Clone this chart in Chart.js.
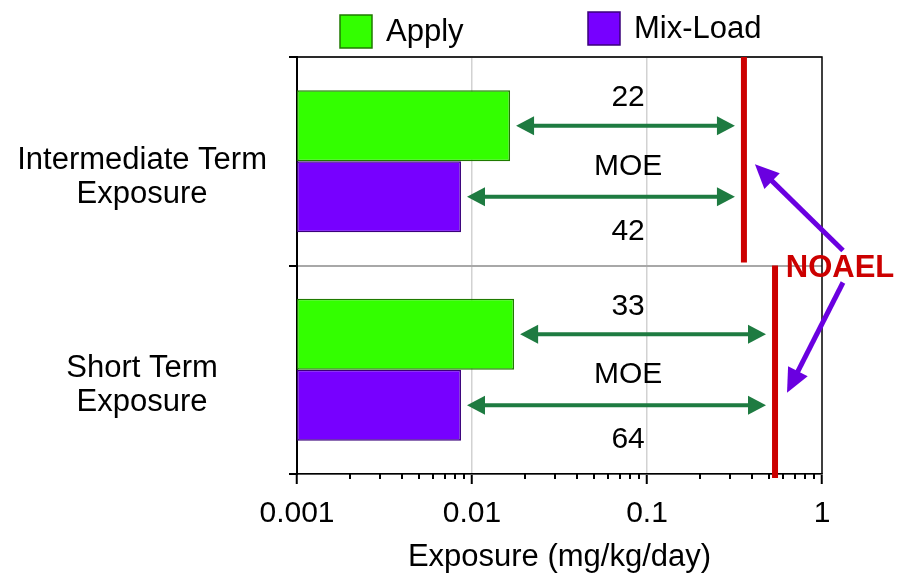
<!DOCTYPE html>
<html><head><meta charset="utf-8">
<script src="https://cdn.jsdelivr.net/npm/chart.js@4/dist/chart.umd.min.js"></script>
<style>html,body{margin:0;padding:0;background:#fff}#wrap{width:897px;height:573px}</style>
</head><body><div id="wrap"><canvas id="c" width="897" height="573"></canvas></div>
<script>
const categories = [['Intermediate Term','Exposure'],['Short Term','Exposure']];
const seriesNames = ['Apply','Mix-Load'];
const applyValues = [0.0165, 0.0174];
const mixLoadValues = [0.00865, 0.00865];
const noaelValues = [0.358, 0.539];
const moeApply = ['22','33'];
const moeMixLoad = ['42','64'];
const moeLabel = 'MOE';
const noaelLabel = 'NOAEL';
const xTickValues = [0.001, 0.01, 0.1, 1];
const xTickLabels = ['0.001', '0.01', '0.1', '1'];

const FONT = "'Liberation Sans', Arial, Helvetica, sans-serif";
const GREEN = '#33ff00', GREEN_B = '#1f7a00';
const PURPLE = '#7700ff', PURPLE_B = '#3a007a';
const ARROW_G = '#1e7b41', ARROW_P = '#6a00e0', RED = '#cc0000';

function isMajor(v){ const l = Math.log10(v); return Math.abs(l - Math.round(l)) < 1e-9; }

function doubleArrow(ctx, x1, x2, y, color){
  const hl = 18, hw = 9.5;
  ctx.save();
  ctx.strokeStyle = color; ctx.fillStyle = color; ctx.lineWidth = 4;
  ctx.beginPath(); ctx.moveTo(x1 + hl - 2, y); ctx.lineTo(x2 - hl + 2, y); ctx.stroke();
  ctx.beginPath(); ctx.moveTo(x1, y); ctx.lineTo(x1 + hl, y - hw); ctx.lineTo(x1 + hl, y + hw); ctx.closePath(); ctx.fill();
  ctx.beginPath(); ctx.moveTo(x2, y); ctx.lineTo(x2 - hl, y - hw); ctx.lineTo(x2 - hl, y + hw); ctx.closePath(); ctx.fill();
  ctx.restore();
}
function singleArrow(ctx, x1, y1, x2, y2, color){
  const hl = 24, hw = 11;
  const a = Math.atan2(y2 - y1, x2 - x1);
  const c = Math.cos(a), s = Math.sin(a);
  ctx.save();
  ctx.strokeStyle = color; ctx.fillStyle = color; ctx.lineWidth = 5;
  ctx.beginPath(); ctx.moveTo(x1, y1); ctx.lineTo(x2 - c * (hl - 2), y2 - s * (hl - 2)); ctx.stroke();
  const bx = x2 - c * hl, by = y2 - s * hl;
  ctx.beginPath(); ctx.moveTo(x2, y2);
  ctx.lineTo(bx - s * hw, by + c * hw); ctx.lineTo(bx + s * hw, by - c * hw); ctx.closePath(); ctx.fill();
  ctx.restore();
}

const annotations = {
  id: 'annotations',
  afterDatasetsDraw(chart){
    const ctx = chart.ctx, xs = chart.scales.x, ys = chart.scales.y, ca = chart.chartArea;
    const half = (ys.getPixelForValue(1) - ys.getPixelForValue(0)) / 2;
    const mA = chart.getDatasetMeta(0), mM = chart.getDatasetMeta(1);
    const labelX = xs.getPixelForValue(0.078);
    ctx.save();
    // minor ticks
    ctx.strokeStyle = '#000'; ctx.lineWidth = 2;
    xs.ticks.forEach(t => {
      if (!isMajor(t.value)) {
        const px = Math.round(xs.getPixelForValue(t.value));
        ctx.beginPath(); ctx.moveTo(px, ca.bottom); ctx.lineTo(px, ca.bottom + 5); ctx.stroke();
      }
    });
    // frame (top / right)
    ctx.lineWidth = 1.5; ctx.strokeStyle = '#000';
    ctx.beginPath(); ctx.moveTo(ca.left, ca.top); ctx.lineTo(ca.right, ca.top); ctx.lineTo(ca.right, ca.bottom); ctx.stroke();
    categories.forEach((cat, i) => {
      const cy = ys.getPixelForValue(i);
      const nx = xs.getPixelForValue(noaelValues[i]);
      // NOAEL line
      ctx.fillStyle = RED;
      const top = cy - half;
      const bot = i === 0 ? cy + half - 3 : cy + half + 4;
      ctx.fillRect(nx - 3, top, 6, bot - top);
      // MOE arrows
      const ba = mA.data[i], bm = mM.data[i];
      doubleArrow(ctx, xs.getPixelForValue(applyValues[i]) + 6, nx - 9, ba.y, ARROW_G);
      doubleArrow(ctx, xs.getPixelForValue(mixLoadValues[i]) + 6, nx - 9, bm.y, ARROW_G);
      // texts
      ctx.fillStyle = '#000'; ctx.font = '30px ' + FONT;
      ctx.textAlign = 'center'; ctx.textBaseline = 'middle';
      ctx.fillText(moeApply[i], labelX, ba.y - 28);
      ctx.fillText(moeLabel, labelX, cy + 5);
      ctx.fillText(moeMixLoad[i], labelX, bm.y + 35);
    });
    // NOAEL label + pointers
    const bY = ys.getPixelForValue(0) + half;
    const lx = ca.right + 18;
    ctx.fillStyle = RED; ctx.font = 'bold 31px ' + FONT;
    ctx.textAlign = 'center'; ctx.textBaseline = 'middle';
    ctx.fillText(noaelLabel, lx, bY + 3);
    const n0 = xs.getPixelForValue(noaelValues[0]), n1 = xs.getPixelForValue(noaelValues[1]);
    singleArrow(ctx, lx + 3, bY - 15, n0 + 11, ys.getPixelForValue(0) + 3, ARROW_P);
    singleArrow(ctx, lx + 3, bY + 17, n1 + 12, ys.getPixelForValue(1) + 23, ARROW_P);
    // legend
    const leg = [{x: 340, c: GREEN, b: GREEN_B}, {x: 588, c: PURPLE, b: PURPLE_B}];
    ctx.font = '31px ' + FONT; ctx.textAlign = 'left'; ctx.textBaseline = 'middle';
    seriesNames.forEach((n, i) => {
      const L = leg[i], by = i === 0 ? 15 : 12;
      ctx.fillStyle = L.c; ctx.fillRect(L.x, by, 32, 33);
      ctx.strokeStyle = L.b; ctx.lineWidth = 1.5; ctx.strokeRect(L.x, by, 32, 33);
      ctx.fillStyle = '#000'; ctx.fillText(n, L.x + 46, by + 17);
    });
    ctx.restore();
  }
};

new Chart(document.getElementById('c'), {
  type: 'bar',
  data: {
    labels: categories,
    datasets: [
      {label: seriesNames[0], data: applyValues, backgroundColor: GREEN, borderColor: GREEN_B, borderWidth: 1.5, borderSkipped: false},
      {label: seriesNames[1], data: mixLoadValues, backgroundColor: PURPLE, borderColor: PURPLE_B, borderWidth: 1.5, borderSkipped: false}
    ]
  },
  options: {
    indexAxis: 'y',
    responsive: false, animation: false, devicePixelRatio: 1,
    layout: {padding: {top: 57, right: 75, left: 0, bottom: 0}},
    categoryPercentage: 0.68, barPercentage: 1.0,
    plugins: {legend: {display: false}, tooltip: {enabled: false}},
    scales: {
      x: {
        type: 'logarithmic', min: 0.001, max: 1, position: 'bottom',
        afterBuildTicks: s => {
          const t = [];
          for (let d = -3; d < 0; d++) for (let k = 1; k < 10; k++) t.push({value: k * Math.pow(10, d)});
          t.push({value: 1});
          s.ticks = t;
        },
        ticks: {
          autoSkip: false, maxRotation: 0, minRotation: 0, padding: 12, color: '#000',
          font: {family: FONT, size: 30},
          callback: (v) => { const i = xTickValues.findIndex(x => Math.abs(x - v) < 1e-12); return i >= 0 ? xTickLabels[i] : ''; }
        },
        grid: {
          color: c => (c.tick && isMajor(c.tick.value) && c.tick.value > 0.001 && c.tick.value < 1) ? '#d2d2d2' : 'rgba(0,0,0,0)',
          lineWidth: 1.5, tickLength: 10,
          tickColor: c => (c.tick && isMajor(c.tick.value)) ? '#000' : 'rgba(0,0,0,0)', tickWidth: 2
        },
        border: {color: '#000', width: 1.5},
        title: {display: true, text: 'Exposure (mg/kg/day)', color: '#000', font: {family: FONT, size: 31, lineHeight: 1}, padding: {top: 0, bottom: 0}},
        afterFit: s => { s.height = 99; }
      },
      y: {
        type: 'category', offset: true,
        grid: {offset: true, color: '#a8a8a8', lineWidth: 2, tickLength: 8, tickColor: '#000', tickWidth: 2},
        border: {color: '#000', width: 2},
        ticks: {crossAlign: 'center', padding: 22, labelOffset: 16, color: '#000', font: {family: FONT, size: 31, lineHeight: 1.1}},
        afterFit: s => { s.width = 297; }
      }
    }
  },
  plugins: [annotations]
});
</script>
</body></html>
